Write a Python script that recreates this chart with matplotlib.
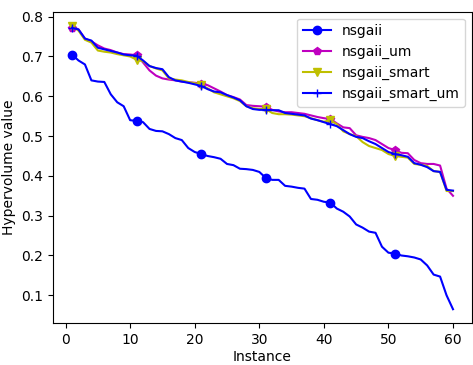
import matplotlib
matplotlib.use('Agg')
import matplotlib.pyplot as plt

instances = list(range(1, 61))

nsgaii = [0.705, 0.690, 0.680, 0.640, 0.637, 0.636, 0.605, 0.585, 0.575, 0.540,
          0.538, 0.535, 0.518, 0.513, 0.512, 0.505, 0.495, 0.490, 0.470, 0.460,
          0.455, 0.450, 0.447, 0.443, 0.430, 0.427, 0.418, 0.417, 0.415, 0.410,
          0.395, 0.390, 0.390, 0.375, 0.373, 0.370, 0.368, 0.342, 0.340, 0.335,
          0.333, 0.318, 0.310, 0.298, 0.278, 0.270, 0.260, 0.257, 0.222, 0.207,
          0.205, 0.200, 0.198, 0.195, 0.190, 0.175, 0.152, 0.147, 0.100, 0.065]

nsgaii_um = [0.772, 0.768, 0.745, 0.738, 0.728, 0.720, 0.716, 0.710, 0.706, 0.705,
             0.703, 0.685, 0.665, 0.652, 0.645, 0.642, 0.640, 0.637, 0.635, 0.634,
             0.632, 0.628, 0.620, 0.612, 0.603, 0.598, 0.592, 0.578, 0.576, 0.575,
             0.574, 0.566, 0.562, 0.560, 0.560, 0.558, 0.556, 0.552, 0.548, 0.545,
             0.543, 0.532, 0.522, 0.520, 0.502, 0.498, 0.495, 0.490, 0.480, 0.470,
             0.465, 0.458, 0.457, 0.440, 0.432, 0.430, 0.430, 0.426, 0.368, 0.350]

nsgaii_smart = [0.777, 0.765, 0.742, 0.735, 0.715, 0.712, 0.710, 0.706, 0.703, 0.700,
                0.692, 0.688, 0.676, 0.670, 0.665, 0.645, 0.642, 0.640, 0.636, 0.633,
                0.628, 0.620, 0.610, 0.605, 0.600, 0.595, 0.588, 0.575, 0.570, 0.568,
                0.568, 0.558, 0.555, 0.555, 0.554, 0.552, 0.550, 0.545, 0.540, 0.536,
                0.540, 0.530, 0.512, 0.505, 0.500, 0.485, 0.475, 0.470, 0.465, 0.455,
                0.450, 0.448, 0.446, 0.430, 0.428, 0.425, 0.412, 0.410, 0.362, 0.362]

nsgaii_smart_um = [0.772, 0.768, 0.745, 0.740, 0.722, 0.718, 0.714, 0.710, 0.705, 0.703,
                   0.702, 0.690, 0.676, 0.671, 0.668, 0.648, 0.640, 0.637, 0.634, 0.630,
                   0.626, 0.618, 0.612, 0.610, 0.603, 0.597, 0.590, 0.575, 0.568, 0.566,
                   0.566, 0.565, 0.565, 0.558, 0.556, 0.554, 0.552, 0.544, 0.540, 0.535,
                   0.530, 0.525, 0.515, 0.505, 0.498, 0.495, 0.487, 0.480, 0.470, 0.460,
                   0.455, 0.452, 0.448, 0.432, 0.428, 0.422, 0.412, 0.410, 0.365, 0.363]

fig = plt.figure(figsize=(4.73, 3.65), dpi=100)
plt.subplots_adjust(left=0.112, right=0.998, top=0.968, bottom=0.114)

plt.plot(instances, nsgaii, 'bo-', markevery=10, label='nsgaii')
plt.plot(instances, nsgaii_um, 'mp-', markevery=10, label='nsgaii_um')
plt.plot(instances, nsgaii_smart, 'yv-', markevery=10, label='nsgaii_smart')
plt.plot(instances, nsgaii_smart_um, 'b+-', markevery=10, label='nsgaii_smart_um')

plt.legend(loc='upper right')
plt.xlabel('Instance', labelpad=2)
plt.ylabel('Hypervolume value')
plt.savefig('out.png')
